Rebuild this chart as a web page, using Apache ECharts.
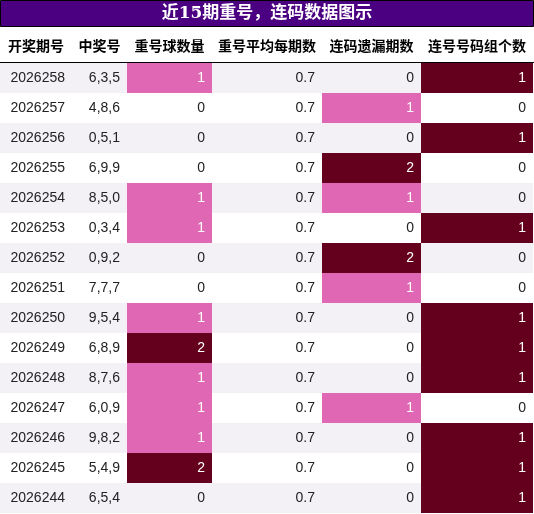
<!DOCTYPE html>
<html><head><meta charset="utf-8">
<script src="https://cdn.jsdelivr.net/npm/echarts@6/dist/echarts.min.js"></script>
<style>html,body{margin:0;padding:0;background:#fff}#c{width:534px;height:514px}</style>
</head><body><div id="c"></div>
<script>
const title = '近15期重号，连码数据图示';
const headers = ['开奖期号','中奖号','重号球数量','重号平均每期数','连码遗漏期数','连号号码组个数'];
const periods = ['2026258','2026257','2026256','2026255','2026254','2026253','2026252','2026251','2026250','2026249','2026248','2026247','2026246','2026245','2026244'];
const numbers = ['6,3,5','4,8,6','0,5,1','6,9,9','8,5,0','0,3,4','0,9,2','7,7,7','9,5,4','6,8,9','8,7,6','6,0,9','9,8,2','5,4,9','6,5,4'];
const repeatCount = [1,0,0,0,1,1,0,0,1,2,1,1,1,2,0];
const repeatAvg = [0.7,0.7,0.7,0.7,0.7,0.7,0.7,0.7,0.7,0.7,0.7,0.7,0.7,0.7,0.7];
const consecMiss = [0,1,0,2,1,0,2,1,0,0,0,1,0,0,0];
const consecGroups = [1,0,1,0,0,1,0,0,1,1,1,0,1,1,1];

const colEdges = [0,72,127,212,322,421,533];
const columns = [periods, numbers, repeatCount, repeatAvg, consecMiss, consecGroups];
const PINK='#df67b3', DARK='#64001e';
const colorMaps = [null,null,{1:PINK,2:DARK},null,{1:PINK,2:DARK},{1:DARK}];
const data = [];
for (let r=0;r<periods.length;r++) for (let c=0;c<columns.length;c++) data.push([c,r]);

const chart = echarts.init(document.getElementById('c'));
chart.setOption({
  animation:false,
  graphic:[
    {type:'rect',shape:{x:0.5,y:0.5,width:533,height:26},style:{fill:'#4b0082',stroke:'#000',lineWidth:1}},
    {type:'text',x:267,y:14,style:{text:title,fill:'#fff',font:'bold 17px "DejaVu Serif","Noto Sans CJK SC",serif',align:'center',verticalAlign:'middle'}},
    {type:'line',shape:{x1:0,y1:62.5,x2:534,y2:62.5},style:{stroke:'#000',lineWidth:1.2}}
  ].concat(headers.map((h,i)=>({type:'text',x:(colEdges[i]+colEdges[i+1])/2,y:46,style:{text:h,fill:'#000',font:'bold 14px "Noto Sans CJK SC",sans-serif',align:'center',verticalAlign:'middle'}}))),
  grid:{left:0,right:1,top:63,bottom:1},
  xAxis:{type:'value',min:0,max:533,show:false},
  yAxis:{type:'value',min:0,max:15,inverse:true,show:false},
  series:[{
    type:'custom',
    data:data,
    renderItem:function(params,api){
      const c=api.value(0), r=api.value(1);
      const v=columns[c][r];
      const p0=api.coord([colEdges[c],r]), p1=api.coord([colEdges[c+1],r+1]);
      let fill = r%2===0 ? '#f3f0f6' : '#ffffff';
      let tc = '#222';
      const m=colorMaps[c];
      if (m && m[v]){fill=m[v];tc='#fff';}
      return {type:'group',children:[
        {type:'rect',shape:{x:p0[0],y:p0[1],width:p1[0]-p0[0],height:p1[1]-p0[1]},style:{fill:fill}},
        {type:'text',x:p1[0]-7,y:(p0[1]+p1[1])/2,style:{text:String(v),fill:tc,font:'14px "Liberation Sans",Arial,sans-serif',align:'right',verticalAlign:'middle'}}
      ]};
    }
  }]
});
</script></body></html>
